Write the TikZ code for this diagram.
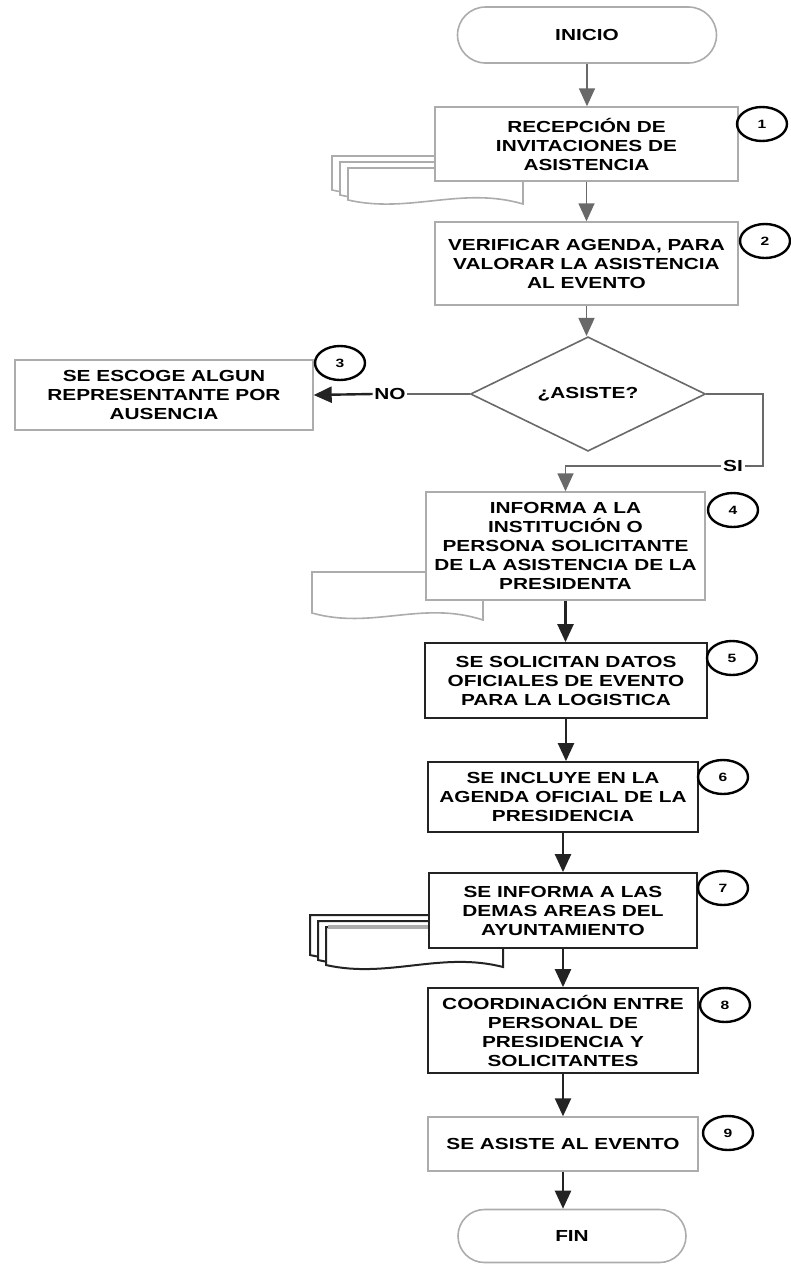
\documentclass[tikz,border=0pt]{standalone}
\usepackage{fontspec}
\setmainfont{Liberation Sans}[FakeStretch=1.3]
\usetikzlibrary{arrows.meta,positioning,shapes.geometric,shapes.misc}
\definecolor{flowgray}{RGB}{172,172,172}
\definecolor{arrowgray}{RGB}{105,105,105}
\definecolor{flowink}{RGB}{35,35,35}
\newcommand{\flowfont}{\fontsize{16}{19}\selectfont\bfseries}
\newcommand{\numfont}{\fontsize{12}{14}\selectfont\bfseries}
\tikzset{
  procbox/.style={draw=flowgray, line width=1.4pt, fill=white, inner sep=0pt, align=center, font=\flowfont},
  inkbox/.style={procbox, draw=flowink, line width=1.8pt},
  termbox/.style={rounded rectangle, draw=flowgray, line width=1.6pt, fill=white, inner sep=0pt, font=\flowfont},
  numcirc/.style={ellipse, draw=black, line width=2.4pt, minimum width=50pt, minimum height=34pt, inner sep=0pt, font=\numfont},
  flowarrow/.style={draw=arrowgray, line width=1.5pt, -{Triangle[length=18pt,width=16pt]}},
  inkarrow/.style={flowarrow, draw=flowink, line width=2.4pt},
  branchlbl/.style={inner sep=1.5pt, font=\flowfont},
  docpage/.style={draw=flowgray, line width=1.6pt, fill=white},
  inkpage/.style={docpage, draw=flowink, line width=2pt}
}

\begin{document}
\begin{tikzpicture}[x=1pt, y=-1pt]
\useasboundingbox (0,0) rectangle (791,1264);
% documents behind the steps
\draw[docpage] (332,156) -- (332,190) .. controls (393,204) and (446,176) .. (507,190) -- (507,156) -- cycle;
\draw[docpage] (340,162) -- (340,195) .. controls (401,209) and (454,181) .. (515,195) -- (515,162) -- cycle;
\draw[docpage] (348,168) -- (348,200) .. controls (409,214) and (462,186) .. (523,204) -- (523,168) -- cycle;
\draw[docpage] (312,572) -- (312,613) .. controls (372,630) and (422,600) .. (483,620) -- (483,572) -- cycle;
\draw[inkpage] (310,915) -- (310,955) .. controls (372,969) and (425,941) .. (487,955) -- (487,915) -- cycle;
\draw[inkpage] (318,921) -- (318,960) .. controls (380,974) and (433,946) .. (495,960) -- (495,921) -- cycle;
\draw[inkpage] (326,927) -- (326,965) .. controls (388,979) and (441,951) .. (503,967) -- (503,927) -- cycle;
\draw[flowgray, line width=4pt] (328,927) -- (429,927);
% steps
\node[termbox, minimum width=259pt, minimum height=56pt] (inicio) at (587,35) {INICIO};
\node[procbox, minimum width=303pt, minimum height=74pt] (recep) at (586.5,144) {RECEPCIÓN DE\\INVITACIONES DE\\ASISTENCIA};
\node[numcirc] (n1) at (762,124) {1};
\node[procbox, minimum width=303pt, minimum height=83pt] (verif) at (586.5,263.5) {VERIFICAR AGENDA, PARA\\VALORAR LA ASISTENCIA\\AL EVENTO};
\node[numcirc] (n2) at (765,241) {2};
\node[diamond, draw=arrowgray, line width=1.6pt, fill=white, minimum width=235pt, minimum height=98pt, inner sep=0pt, font=\flowfont] (asiste) at (588,394) {¿ASISTE?};
\node[procbox, minimum width=298pt, minimum height=70pt] (escoge) at (164,395) {SE ESCOGE ALGUN\\REPRESENTANTE POR\\AUSENCIA};
\node[numcirc] (n3) at (340,363) {3};
\node[branchlbl] (nolbl) at (390,394) {NO};
\coordinate (sicorner) at (763,466);
\node[branchlbl] (silbl) at (733,466) {SI};
\node[procbox, minimum width=279pt, minimum height=108pt] (informa) at (565.5,546) {INFORMA A LA\\INSTITUCIÓN O\\PERSONA SOLICITANTE\\DE LA ASISTENCIA DE LA\\PRESIDENTA};
\node[numcirc] (n4) at (733,510) {4};
\node[inkbox, minimum width=282pt, minimum height=75pt] (solicit) at (566,680.5) {SE SOLICITAN DATOS\\OFICIALES DE EVENTO\\PARA LA LOGISTICA};
\node[numcirc] (n5) at (732,658) {5};
\node[inkbox, minimum width=270pt, minimum height=70pt] (incluye) at (563,797) {SE INCLUYE EN LA\\AGENDA OFICIAL DE LA\\PRESIDENCIA};
\node[numcirc] (n6) at (723,777) {6};
\node[inkbox, minimum width=268pt, minimum height=75pt] (demas) at (563,910.5) {SE INFORMA A LAS\\DEMAS AREAS DEL\\AYUNTAMIENTO};
\node[numcirc] (n7) at (723,888) {7};
\node[inkbox, minimum width=270pt, minimum height=85pt] (coord) at (563,1030.5) {COORDINACIÓN ENTRE\\PERSONAL DE\\PRESIDENCIA Y\\SOLICITANTES};
\node[numcirc] (n8) at (725,1005) {8};
\node[procbox, minimum width=270pt, minimum height=54pt] (asist) at (563,1144) {SE ASISTE AL EVENTO};
\node[numcirc] (n9) at (728,1133) {9};
\node[termbox, minimum width=228pt, minimum height=53pt] (fin) at (572,1236) {FIN};
% connectors
\draw[flowarrow] (inicio.south) -- (inicio.south |- recep.north);
\draw[flowarrow] (recep.south) -- (verif.north);
\draw[flowarrow] (verif.south) -- (verif.south |- asiste.north);
\draw[draw=arrowgray, line width=1.5pt] (asiste.west) -- (nolbl.east);
\draw[inkarrow] (nolbl.west) -- (escoge.east);
\draw[draw=arrowgray, line width=1.5pt] (asiste.east) -| (sicorner) -- (silbl.east);
\draw[flowarrow] (silbl.west) -| (informa.north);
\draw[inkarrow] (informa.south) -- (informa.south |- solicit.north);
\draw[inkarrow] (solicit.south) -- (solicit.south |- incluye.north);
\draw[inkarrow] (incluye.south) -- (demas.north);
\draw[inkarrow] (demas.south) -- (coord.north);
\draw[inkarrow] (coord.south) -- (asist.north);
\draw[inkarrow] (asist.south) -- (asist.south |- fin.north);
\end{tikzpicture}
\end{document}
